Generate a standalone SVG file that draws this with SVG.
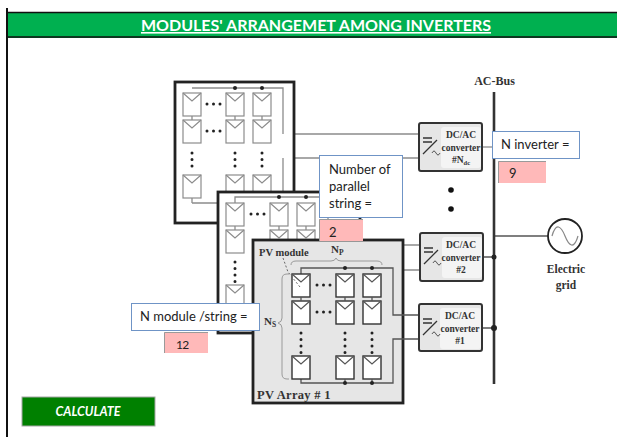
<svg xmlns="http://www.w3.org/2000/svg" xmlns:xlink="http://www.w3.org/1999/xlink" width="617" height="437" viewBox="0 0 617 437">
<style>
.ui{font-family:Lato,"Open Sans",sans-serif;fill:#222}
.sf{font-family:"Liberation Serif",serif;font-weight:bold;fill:#333}
.wire{fill:none;stroke:#8c8c8c;stroke-width:1.3}
.wire1{fill:none;stroke:#555;stroke-width:1.3}
.arr{stroke:#222;stroke-width:2.8}
.conv{stroke:#333;stroke-width:2;fill:#e6e6e6}
.dots{fill:none;stroke:#222;stroke-width:3;stroke-linecap:round;stroke-dasharray:0 6.5}
.callout{fill:#fff;stroke:#6f94c6;stroke-width:1}
.val{fill:#ffb9b9}
.valedge{fill:none;stroke:#9a9a9a;stroke-width:1}
.brace{fill:none;stroke:#9a9a9a;stroke-width:1}
</style>
<defs>
<g id="mg"><rect width="18" height="23" fill="#fff" stroke="#8c8c8c" stroke-width="1.2"/><path d="M0 0L9 8L18 0" fill="none" stroke="#8c8c8c" stroke-width="1.2"/></g>
<g id="mb"><rect width="18" height="23" fill="#fff" stroke="#333" stroke-width="1.4"/><path d="M0 0L9 8L18 0" fill="none" stroke="#555" stroke-width="1.2"/></g>
<g id="sym"><path d="M0 4H9M0 8H9M0 20L14 6" fill="none" stroke="#333" stroke-width="1.3"/><path d="M9 19q2-4 4 0t4 0" fill="none" stroke="#555" stroke-width="1"/></g>
</defs>
<rect width="617" height="437" fill="#fff"/>
<g id="frame">
<rect x="8" y="12" width="609" height="26" fill="#00b050"/>
<path d="M8 12.500H617M8 37H617" stroke="#111" stroke-width="1.500"/>
<rect x="6" y="8" width="2" height="429" fill="#111"/>
<text class="ui" x="316" y="31" text-anchor="middle" font-size="16" font-weight="bold" style="fill:#fff" text-decoration="underline">MODULES' ARRANGEMET AMONG INVERTERS</text>
</g>
<g id="connectors">
<path class="wire" d="M192 93V88H283V134H418M418 158H283V203H192V198"/>
<path class="wire" d="M403 245H419M403 270H419"/>
<path class="wire" d="M482 147H494"/>
<path class="wire1" d="M483 257H494M482 328H494M494 236H548" stroke-width="1.500"/>
<path d="M494 92V384" stroke="#333" stroke-width="2.600" fill="none"/>
</g>
<g id="pv-array-3">
<rect class="arr" x="175" y="82" width="119" height="141" fill="#fff"/>
<path class="wire" d="M192 88H283V134M283 158V203H192"/>
<use xlink:href="#mg" x="183" y="93"/><use xlink:href="#mg" x="226" y="93"/><use xlink:href="#mg" x="253" y="93"/>
<use xlink:href="#mg" x="183" y="120"/><use xlink:href="#mg" x="226" y="120"/><use xlink:href="#mg" x="253" y="120"/>
<use xlink:href="#mg" x="183" y="175"/><use xlink:href="#mg" x="226" y="175"/><use xlink:href="#mg" x="253" y="175"/>
<path class="wire" d="M192 116V120M235 116V120M262 116V120M192 198V203M235 198V203M262 198V203"/>
<circle cx="235" cy="88" r="2" fill="#222"/><circle cx="262" cy="88" r="2" fill="#222"/>
<path class="dots" d="M207 104H221M207 131H221M192 153V167M235 153V167M262 153V167"/>
</g>
<g id="pv-array-2">
<rect class="arr" x="218" y="192" width="142" height="141" fill="#fff"/>
<path class="wire" d="M235 203V197H328V245H403M328 270H403"/>
<use xlink:href="#mg" x="226" y="203"/><use xlink:href="#mg" x="270" y="203"/><use xlink:href="#mg" x="297" y="203"/>
<use xlink:href="#mg" x="226" y="230"/><use xlink:href="#mg" x="270" y="230"/><use xlink:href="#mg" x="297" y="230"/>
<use xlink:href="#mg" x="226" y="285"/>
<path class="wire" d="M235 226V230M279 226V230M306 226V230"/>
<circle cx="279" cy="197" r="2" fill="#222"/><circle cx="306" cy="197" r="2" fill="#222"/>
<path class="dots" d="M251 214H265M235 262V282"/>
</g>
<g id="pv-array-1">
<rect class="arr" x="253" y="240" width="150" height="163" fill="#e6e6e6"/>
<path class="wire1" d="M301 274V268H393V315H418M418 339H393V383H301V379"/>
<use xlink:href="#mb" x="292" y="274"/><use xlink:href="#mb" x="336" y="274"/><use xlink:href="#mb" x="363" y="274"/>
<use xlink:href="#mb" x="292" y="301"/><use xlink:href="#mb" x="336" y="301"/><use xlink:href="#mb" x="363" y="301"/>
<use xlink:href="#mb" x="292" y="356"/><use xlink:href="#mb" x="336" y="356"/><use xlink:href="#mb" x="363" y="356"/>
<path class="wire1" d="M301 297V301M345 297V301M372 297V301M345 379V383M372 379V383"/>
<circle cx="345" cy="268" r="2" fill="#222"/><circle cx="372" cy="268" r="2" fill="#222"/>
<circle cx="345" cy="383" r="2" fill="#222"/><circle cx="372" cy="383" r="2" fill="#222"/>
<path class="dots" d="M317 285H331M317 312H331M301 333V353M345 333V353M372 333V353"/>
<path class="brace" d="M291 265Q291 261 296 261H331Q335 261 336 258Q337 261 341 261H377Q382 261 382 265"/>
<path class="brace" d="M289 274H287Q282 274 282 279V318Q282 322 278 323Q282 324 282 328V374Q282 379 287 379H289"/>
<path d="M283 258L288 272L300 287" fill="none" stroke="#666" stroke-width="1" stroke-dasharray="2 2"/>
<text class="sf" x="259" y="256" font-size="10.500">PV module</text>
<text class="sf" x="331" y="253" font-size="11">N<tspan font-size="7.500" dy="2">P</tspan></text>
<text class="sf" x="264" y="325" font-size="11">N<tspan font-size="7.500" dy="2">S</tspan></text>
<text class="sf" x="257" y="399" font-size="12.500" letter-spacing=".3">PV Array # 1</text>
</g>
<g id="converter-ndc">
<rect class="conv" x="419" y="123" width="63" height="48" rx="2"/>
<rect x="441" y="127" width="40" height="41" rx="3" fill="#f4f4f4"/>
<use xlink:href="#sym" x="423" y="134"/>
<text class="sf" x="461" y="138" font-size="9.500" text-anchor="middle">DC/AC</text>
<text class="sf" x="461" y="151" font-size="9.500" text-anchor="middle">converter</text>
<text class="sf" x="461" y="163" font-size="9.500" text-anchor="middle">#N<tspan font-size="6.500" dy="2">dc</tspan></text>
</g>
<g id="converter-2">
<rect class="conv" x="420" y="233" width="63" height="48" rx="2"/>
<rect x="442" y="237" width="40" height="41" rx="3" fill="#f4f4f4"/>
<use xlink:href="#sym" x="424" y="244"/>
<text class="sf" x="461" y="248" font-size="9.500" text-anchor="middle">DC/AC</text>
<text class="sf" x="461" y="261" font-size="9.500" text-anchor="middle">converter</text>
<text class="sf" x="461" y="273" font-size="9.500" text-anchor="middle">#2</text>
</g>
<g id="converter-1">
<rect class="conv" x="419" y="304" width="63" height="47" rx="2"/>
<rect x="440" y="308" width="41" height="41" rx="3" fill="#f4f4f4"/>
<use xlink:href="#sym" x="423" y="315"/>
<text class="sf" x="460" y="319" font-size="9.500" text-anchor="middle">DC/AC</text>
<text class="sf" x="460" y="332" font-size="9.500" text-anchor="middle">converter</text>
<text class="sf" x="460" y="344" font-size="9.500" text-anchor="middle">#1</text>
</g>
<g id="ac-bus">
<circle cx="494" cy="257" r="2.500" fill="#222"/><circle cx="494" cy="328" r="3" fill="#222"/>
<circle cx="451" cy="190" r="2.800" fill="#111"/><circle cx="451" cy="209" r="2.800" fill="#111"/>
<text class="sf" x="494.500" y="85" font-size="12" text-anchor="middle">AC-Bus</text>
</g>
<g id="electric-grid">
<circle cx="565" cy="236" r="17" fill="#fff" stroke="#222" stroke-width="1.800"/>
<path d="M552 236C556 222 561 226 565 236S574 250 578 236" fill="none" stroke="#888" stroke-width="1.200"/>
<text class="sf" x="566" y="273" font-size="11.500" text-anchor="middle">Electric</text>
<text class="sf" x="566" y="289" font-size="11.500" text-anchor="middle">grid</text>
</g>
<g id="input-n-inverter">
<rect class="callout" x="492.500" y="131.500" width="87" height="27"/>
<text class="ui" x="501" y="149" font-size="13">N inverter =</text>
<rect class="val" x="498" y="161" width="48" height="22"/>
<path class="valedge" d="M498.500 183V161.500H546"/>
<text class="ui" x="509" y="178" font-size="13">9</text>
</g>
<g id="input-parallel">
<rect class="callout" x="319.500" y="155.500" width="83" height="62"/>
<text class="ui" x="329" y="174" font-size="13">Number of</text>
<text class="ui" x="329" y="191" font-size="13">parallel</text>
<text class="ui" x="329" y="208" font-size="13">string =</text>
<rect class="val" x="319" y="219" width="44" height="22"/>
<path class="valedge" d="M319.500 241V219.500H363"/>
<text class="ui" x="329" y="237" font-size="13">2</text>
</g>
<g id="input-module">
<rect class="callout" x="131.500" y="303.500" width="128" height="27"/>
<text class="ui" x="140" y="321" font-size="13">N module /string =</text>
<rect class="val" x="164" y="332" width="44" height="21"/>
<path class="valedge" d="M164.500 353V332.500H208"/>
<text class="ui" x="176" y="349" font-size="12" letter-spacing="-.6">12</text>
</g>
<g id="calculate">
<rect x="22" y="397" width="133" height="29" fill="#008000" stroke="#a6a6a6" stroke-width="1"/>
<text class="ui" x="88" y="416" font-size="12.500" font-weight="bold" font-style="italic" text-anchor="middle" style="fill:#fff">CALCULATE</text>
</g>
</svg>
